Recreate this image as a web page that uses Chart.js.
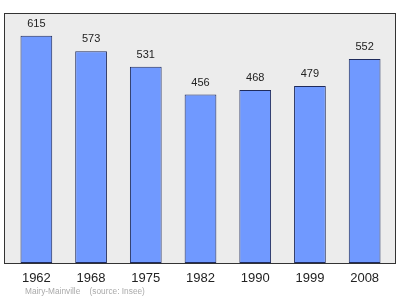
<!DOCTYPE html>
<html>
<head>
<meta charset="utf-8">
<script src="https://cdn.jsdelivr.net/npm/chart.js@4"></script>
<style>
  html, body { margin: 0; padding: 0; background: #fff; }
  #wrap { width: 400px; height: 299px; }
</style>
</head>
<body>
<div id="wrap"><canvas id="popChart" width="400" height="299"></canvas></div>
<script>
const years = ['1962', '1968', '1975', '1982', '1990', '1999', '2008']
const population = [615, 573, 531, 456, 468, 479, 552]
const footerText = 'Mairy-Mainville    (source: Insee)'

const FONT = "'Liberation Sans', Arial, sans-serif"

// grey box behind the bars, a bit wider than the category area
const plotBox = {
    id: 'plotBox',
    beforeDatasetsDraw(chart) {
        const { ctx, chartArea: a } = chart
        ctx.save()
        ctx.fillStyle = '#ececec'
        ctx.fillRect(a.left - 5, a.top, a.right - a.left + 8, a.bottom - a.top)
        ctx.strokeStyle = '#333'
        ctx.lineWidth = 1
        ctx.strokeRect(a.left - 5 + 0.5, a.top + 0.5, a.right - a.left + 8, a.bottom - a.top)
        ctx.restore()
    }
}

const valueLabels = {
    id: 'valueLabels',
    afterDatasetsDraw(chart) {
        const { ctx } = chart
        const meta = chart.getDatasetMeta(0)
        ctx.save()
        ctx.font = '11px ' + FONT
        ctx.fillStyle = '#222'
        ctx.textAlign = 'center'
        ctx.textBaseline = 'middle'
        meta.data.forEach((bar, i) => {
            ctx.fillText(population[i], bar.x, bar.y - 12)
        })
        ctx.restore()
    }
}

const footer = {
    id: 'footer',
    afterDraw(chart) {
        const { ctx } = chart
        ctx.save()
        ctx.font = '8.3px ' + FONT
        ctx.fillStyle = '#aaa'
        ctx.textAlign = 'left'
        ctx.textBaseline = 'middle'
        ctx.fillText(footerText, 25, 292)
        ctx.restore()
    }
}

new Chart(document.getElementById('popChart'), {
    type: 'bar',
    data: {
        labels: years,
        datasets: [{
            data: population,
            backgroundColor: '#7099ff',
            borderColor: '#1f2b5c',
            borderWidth: 1,
            borderSkipped: false,
            barPercentage: 0.58,
            categoryPercentage: 1.0,
        }]
    },
    options: {
        responsive: false,
        animation: false,
        layout: { padding: { left: 9, right: 8, top: 13, bottom: 0 } },
        plugins: {
            legend: { display: false },
            tooltip: { enabled: false },
        },
        scales: {
            x: {
                grid: { display: false, drawTicks: false },
                border: { display: false },
                ticks: { color: '#222', font: { family: FONT, size: 13 }, padding: 8, maxRotation: 0 },
                afterFit: (s) => { s.height = 36 },
            },
            y: {
                display: false,
                min: 0,
                max: Math.max(...population) * 1.1,
            }
        }
    },
    plugins: [plotBox, valueLabels, footer]
})
</script>
</body>
</html>
